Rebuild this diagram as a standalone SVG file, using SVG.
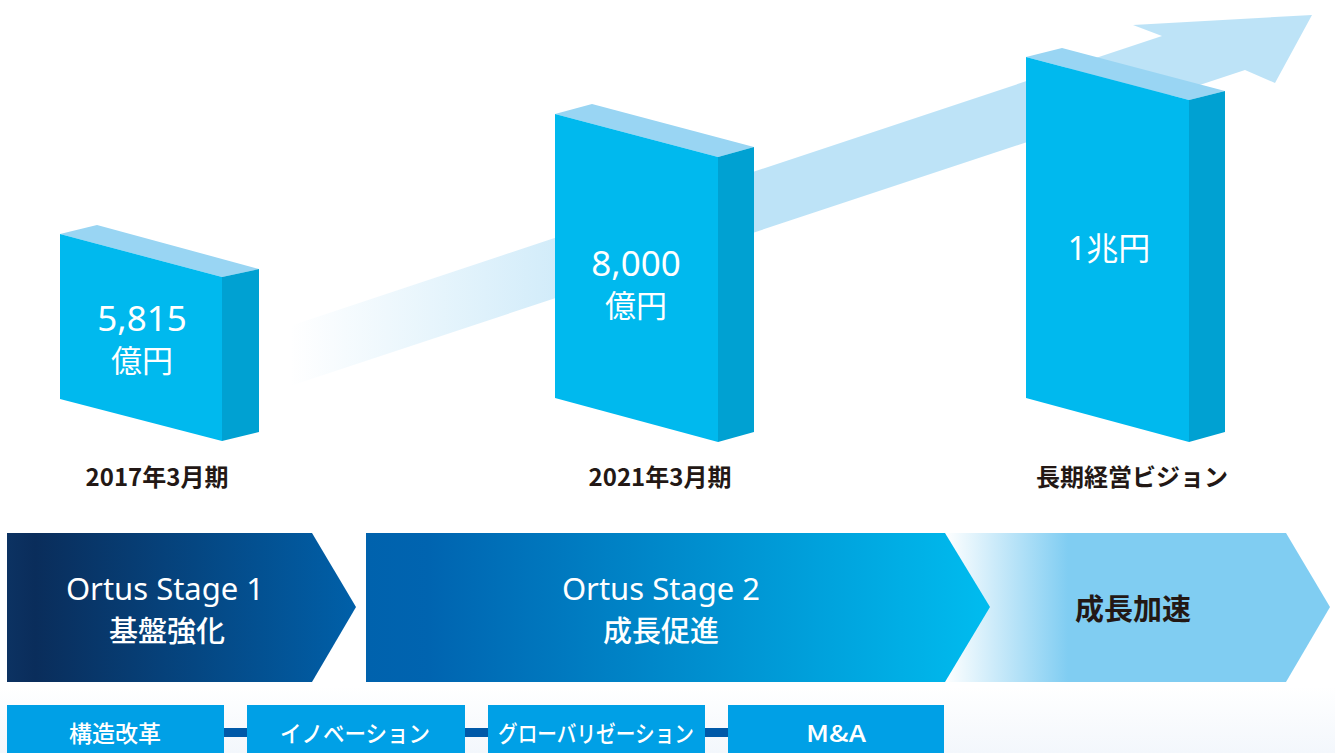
<svg xmlns="http://www.w3.org/2000/svg" width="1335" height="753" viewBox="0 0 1335 753">
  <defs>
    <linearGradient id="bandFade" gradientUnits="userSpaceOnUse" x1="290" y1="0" x2="680" y2="0">
      <stop offset="0" stop-color="#BDE3F7" stop-opacity="0"/>
      <stop offset="0.25" stop-color="#BDE3F7" stop-opacity="0.25"/>
      <stop offset="1" stop-color="#BDE3F7" stop-opacity="1"/>
    </linearGradient>
    <linearGradient id="stage1Fill" gradientUnits="userSpaceOnUse" x1="7" y1="0" x2="356" y2="0">
      <stop offset="0" stop-color="#0C3262"/>
      <stop offset="0.08" stop-color="#0A2D5B"/>
      <stop offset="1" stop-color="#0060A9"/>
    </linearGradient>
    <linearGradient id="stage2Fill" gradientUnits="userSpaceOnUse" x1="366" y1="0" x2="990" y2="0">
      <stop offset="0" stop-color="#0062AD"/>
      <stop offset="0.1" stop-color="#0064B0"/>
      <stop offset="1" stop-color="#00BCEF"/>
    </linearGradient>
    <linearGradient id="stage3Fill" gradientUnits="userSpaceOnUse" x1="945" y1="0" x2="1068" y2="0">
      <stop offset="0" stop-color="#80CDF2" stop-opacity="0"/>
      <stop offset="1" stop-color="#80CDF2"/>
    </linearGradient>
    <linearGradient id="floorTint" x1="0" y1="0" x2="0" y2="1">
      <stop offset="0" stop-color="#FFFFFF"/>
      <stop offset="1" stop-color="#F3F7FC"/>
    </linearGradient>
  </defs>
  <style>
    .front { fill: #00B9EE; }
    .top { fill: #99D5F3; }
    .side { fill: #00A1D2; }
    .val { font-family: "Noto Sans", "Noto Sans CJK JP", sans-serif; fill: #FFFFFF; text-anchor: middle; }
    .cap { font-family: "Noto Sans CJK JP", sans-serif; font-weight: 700; fill: #231815; text-anchor: middle; font-size: 24px; }
    .stage { font-family: "Noto Sans", "Noto Sans CJK JP", sans-serif; fill: #FFFFFF; text-anchor: middle; }
    .theme { fill: #00A0E6; }
    .themeText { font-family: "Noto Sans CJK JP", sans-serif; font-weight: 500; fill: #FFFFFF; text-anchor: middle; font-size: 23px; }
    .link { fill: #0059A8; }
  </style>

  <rect x="0" y="0" width="1335" height="753" fill="#FFFFFF"/>
  <rect x="0" y="686" width="1335" height="67" fill="url(#floorTint)"/>

  <!-- rising growth arrow behind the bars -->
  <g id="growth-arrow">
    <polygon points="290,326 1162,36 1133,25 1312,15 1275,83 1245,70 290,386" fill="url(#bandFade)"/>
  </g>

  <!-- bar: FY2017 -->
  <g id="bar-2017">
    <polygon class="top" points="60,234 97,225 259,269 222,277"/>
    <polygon class="side" points="222,277 259,269 259,432 222,441"/>
    <polygon class="front" points="60,234 222,277 222,441 60,399"/>
    <text class="val" x="142" y="331" font-size="35">5,815</text>
    <text class="val" x="142" y="372" font-size="31" font-family="Noto Sans CJK JP, sans-serif">億円</text>
    <text class="cap" x="157" y="486">2017年3月期</text>
  </g>

  <!-- bar: FY2021 -->
  <g id="bar-2021">
    <polygon class="top" points="555,114 592,104 754,147 718,157"/>
    <polygon class="side" points="718,157 754,147 754,432 718,442"/>
    <polygon class="front" points="555,114 718,157 718,442 555,398"/>
    <text class="val" x="636" y="276" font-size="35">8,000</text>
    <text class="val" x="636" y="317" font-size="31" font-family="Noto Sans CJK JP, sans-serif">億円</text>
    <text class="cap" x="660" y="486">2021年3月期</text>
  </g>

  <!-- bar: long-term vision -->
  <g id="bar-vision">
    <polygon class="top" points="1026,57 1062,48 1225,91 1189,100"/>
    <polygon class="side" points="1189,100 1225,91 1225,432 1189,442"/>
    <polygon class="front" points="1026,57 1189,100 1189,442 1026,398"/>
    <text class="val" x="1109" y="260" font-size="32" font-family="Noto Sans CJK JP, sans-serif">1兆円</text>
    <text class="cap" x="1132" y="486">長期経営ビジョン</text>
  </g>

  <!-- stage chevrons -->
  <g id="stage-3">
    <polygon points="945,533 1286,533 1330,607 1286,682 945,682" fill="url(#stage3Fill)"/>
    <text x="1133" y="620" font-family="Noto Sans CJK JP, sans-serif" font-weight="700" font-size="29" fill="#231815" text-anchor="middle">成長加速</text>
  </g>
  <g id="stage-2">
    <polygon points="366,533 945,533 990,607 945,682 366,682" fill="url(#stage2Fill)"/>
    <text class="stage" x="661" y="600" font-size="31">Ortus Stage 2</text>
    <text class="stage" x="661" y="642" font-size="29" font-weight="500" font-family="Noto Sans CJK JP, sans-serif">成長促進</text>
  </g>
  <g id="stage-1">
    <polygon points="7,533 312,533 356,607 312,682 7,682" fill="url(#stage1Fill)"/>
    <text class="stage" x="165" y="600" font-size="31">Ortus Stage 1</text>
    <text class="stage" x="167" y="642" font-size="29" font-weight="500" font-family="Noto Sans CJK JP, sans-serif">基盤強化</text>
  </g>

  <!-- links between the strategy themes -->
  <g id="connectors">
    <rect class="link" x="223" y="728" width="25" height="9"/>
    <rect class="link" x="464" y="728" width="25" height="9"/>
    <rect class="link" x="704" y="728" width="25" height="9"/>
  </g>

  <!-- strategy themes -->
  <g id="theme-restructuring">
    <rect class="theme" x="7" y="705" width="217" height="48"/>
    <text class="themeText" x="115" y="742" font-size="24">構造改革</text>
  </g>
  <g id="theme-innovation">
    <rect class="theme" x="247" y="705" width="218" height="48"/>
    <text class="themeText" x="355" y="742" textLength="150" lengthAdjust="spacingAndGlyphs">イノベーション</text>
  </g>
  <g id="theme-globalization">
    <rect class="theme" x="488" y="705" width="217" height="48"/>
    <text class="themeText" x="596" y="742" textLength="196" lengthAdjust="spacingAndGlyphs">グローバリゼーション</text>
  </g>
  <g id="theme-ma">
    <rect class="theme" x="728" y="705" width="216" height="48"/>
    <text class="themeText" x="836" y="742" font-size="25" textLength="60" lengthAdjust="spacingAndGlyphs">M&amp;A</text>
  </g>
</svg>
